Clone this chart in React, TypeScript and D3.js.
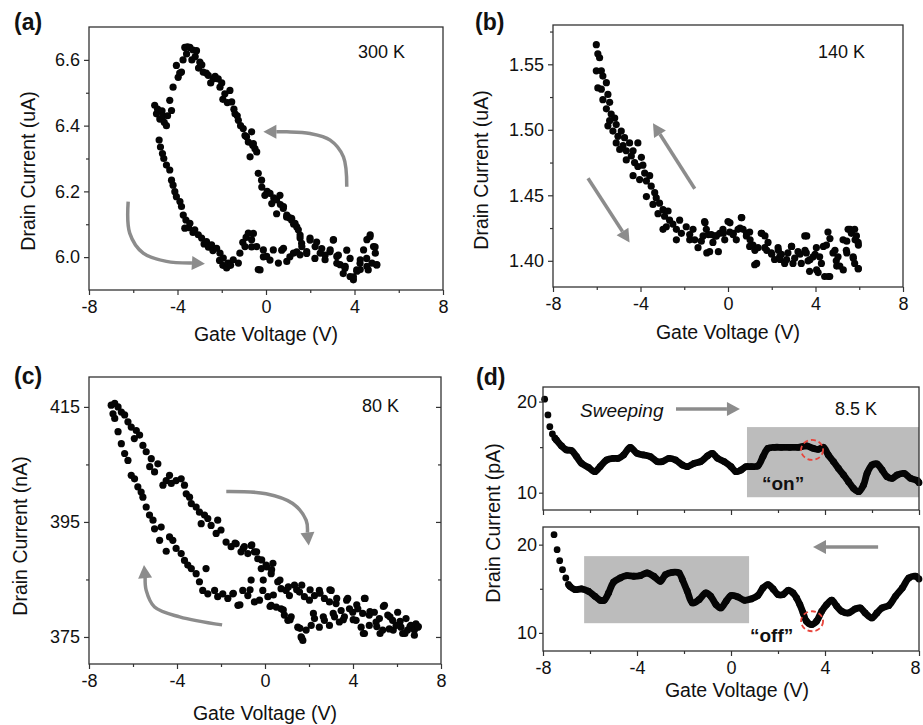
import React, { useEffect, useRef } from "react";
import * as d3 from "d3";

type Pt = [number, number];

const W = 923, H = 725;
const FONT = "'Liberation Sans', Arial, Helvetica, sans-serif";
const GRAY = "#8c8c8c";

// ---- tick values ----
const xMajor = [-8, -4, 0, 4, 8];
const xMinor = [-6, -2, 2, 6];
const aYMajor = [6.0, 6.2, 6.4, 6.6];
const aYMinor = [6.1, 6.3, 6.5];
const bYMajor = [1.4, 1.45, 1.5, 1.55];
const bYMinor = [1.425, 1.475, 1.525, 1.575];
const cYMajor = [375, 395, 415];
const cYMinor = [385, 405];
const dYMajor = [10, 20];
const dYMinor = [15];

// ---- (a) 300 K : gate voltage (V), drain current (uA) ----
const aUpper: Pt[] = [
  [-5.03, 6.462], [-4.95, 6.436], [-4.9, 6.45], [-4.8, 6.42], [-4.7, 6.445], [-4.65, 6.43], [-4.6, 6.41],
  [-4.5, 6.4], [-4.45, 6.43], [-4.35, 6.477], [-4.27, 6.446], [-4.2, 6.517], [-4.05, 6.583], [-3.97, 6.547],
  [-3.9, 6.56], [-3.82, 6.563], [-3.75, 6.6], [-3.67, 6.638], [-3.59, 6.618], [-3.55, 6.64], [-3.44, 6.638],
  [-3.35, 6.6], [-3.3, 6.63], [-3.2, 6.61], [-3.14, 6.628], [-3.05, 6.575], [-2.99, 6.593], [-2.9, 6.585],
  [-2.84, 6.563], [-2.7, 6.56], [-2.61, 6.553], [-2.5, 6.53], [-2.38, 6.542], [-2.3, 6.55], [-2.16, 6.542],
  [-2.08, 6.517], [-2.0, 6.53], [-1.95, 6.48], [-1.86, 6.497], [-1.75, 6.47], [-1.63, 6.507], [-1.55, 6.472],
  [-1.45, 6.45], [-1.4, 6.436], [-1.3, 6.43], [-1.25, 6.416], [-1.15, 6.4], [-1.03, 6.391], [-0.95, 6.37],
  [-0.88, 6.366], [-0.8, 6.35], [-0.72, 6.305], [-0.65, 6.381], [-0.6, 6.34], [-0.57, 6.345], [-0.5, 6.33],
  [-0.42, 6.32], [-0.35, 6.255], [-0.2, 6.234], [-0.19, 6.213], [-0.05, 6.188], [0.05, 6.2], [0.18, 6.194],
  [0.26, 6.163], [0.35, 6.18], [0.48, 6.174], [0.48, 6.132], [0.63, 6.188], [0.65, 6.16], [0.78, 6.148],
  [0.79, 6.154], [0.93, 6.122], [0.94, 6.128], [1.05, 6.12], [1.16, 6.118], [1.16, 6.112], [1.25, 6.1],
  [1.31, 6.103], [1.39, 6.092], [1.46, 6.083], [1.54, 6.067], [1.54, 6.058], [1.61, 6.042], [1.62, 6.032],
];
const aLower: Pt[] = [
  [-4.83, 6.356], [-4.77, 6.335], [-4.68, 6.315], [-4.62, 6.3], [-4.5, 6.28], [-4.35, 6.265], [-4.27, 6.234],
  [-4.2, 6.219], [-4.12, 6.199], [-4.05, 6.184], [-3.89, 6.169], [-3.82, 6.154], [-3.74, 6.128], [-3.67, 6.088],
  [-3.62, 6.113], [-3.5, 6.09], [-3.44, 6.103], [-3.3, 6.075], [-3.22, 6.083], [-3.06, 6.068], [-2.91, 6.058],
  [-2.8, 6.04], [-2.69, 6.047], [-2.6, 6.03], [-2.46, 6.037], [-2.4, 6.02], [-2.23, 6.027], [-2.1, 5.99],
  [-2.08, 6.012], [-1.95, 5.975], [-1.93, 5.997], [-1.78, 5.967], [-1.71, 5.982], [-1.6, 5.975], [-1.48, 5.992],
  [-1.25, 5.982], [-1.18, 6.012], [-1.05, 6.045], [-0.95, 6.032], [-0.9, 6.06], [-0.8, 6.073], [-0.65, 6.053],
  [-0.65, 6.031], [-0.57, 6.072], [-0.42, 6.032], [-0.35, 5.962], [-0.27, 5.961], [-0.12, 6.022], [-0.12, 6.001],
  [0.03, 6.002], [0.18, 5.991], [0.33, 6.022], [0.56, 5.982], [0.71, 6.021], [0.79, 6.027], [0.94, 5.987],
  [1.08, 6.001], [1.24, 6.012], [1.39, 6.016], [1.54, 6.007], [1.84, 6.017], [1.84, 6.011], [1.99, 6.058],
  [1.99, 6.052], [2.21, 5.996], [2.22, 6.032], [2.29, 6.046], [2.45, 6.012], [2.52, 6.026], [2.67, 5.992],
  [2.67, 6.006], [2.89, 6.016], [2.9, 6.022], [3.04, 6.052], [3.05, 6.053], [3.2, 6.002], [3.2, 5.981],
  [3.27, 6.006], [3.35, 5.977], [3.49, 5.95], [3.57, 5.966], [3.58, 5.972], [3.65, 6.021], [3.8, 5.941],
  [3.8, 5.996], [3.95, 5.931], [3.95, 5.94], [4.1, 5.961], [4.11, 5.957], [4.25, 5.981], [4.26, 5.992],
  [4.26, 5.962], [4.41, 6.022], [4.55, 5.996], [4.56, 6.053], [4.56, 5.972], [4.62, 5.961], [4.7, 6.062],
  [4.71, 6.068], [4.79, 5.982], [4.86, 6.032], [4.93, 6.031], [4.94, 6.012], [5.0, 5.976], [5.01, 5.977],
];

// ---- (b) 140 K : drain current (uA) ----
const bSweep: Pt[] = [
  [-6.02, 1.565], [-5.95, 1.558], [-5.87, 1.555], [-6.02, 1.545], [-5.79, 1.545], [-5.72, 1.541], [-5.95, 1.532],
  [-5.79, 1.531], [-5.56, 1.536], [-5.49, 1.527], [-5.72, 1.523], [-5.41, 1.521], [-5.56, 1.516], [-5.34, 1.512],
  [-5.18, 1.509], [-5.41, 1.507], [-5.49, 1.503], [-5.11, 1.504], [-5.26, 1.499], [-4.88, 1.499], [-5.03, 1.495],
  [-4.73, 1.494], [-5.11, 1.49], [-4.8, 1.488], [-4.5, 1.49], [-4.65, 1.484], [-4.95, 1.485], [-4.34, 1.484],
  [-4.12, 1.49], [-4.42, 1.48], [-4.65, 1.477], [-4.27, 1.475], [-3.96, 1.479], [-4.12, 1.472], [-3.89, 1.473],
  [-4.34, 1.465], [-4.04, 1.462], [-3.81, 1.467], [-3.73, 1.461], [-3.58, 1.465], [-3.51, 1.457], [-3.73, 1.449],
  [-3.35, 1.452], [-3.28, 1.448], [-3.43, 1.443], [-3.13, 1.444], [-3.2, 1.436], [-2.97, 1.439], [-2.9, 1.434],
  [-2.74, 1.438], [-2.67, 1.431], [-2.82, 1.426], [-2.97, 1.424], [-2.52, 1.428], [-2.36, 1.424], [-2.36, 1.416],
  [-2.21, 1.431], [-2.13, 1.421], [-1.91, 1.426], [-1.75, 1.42], [-1.75, 1.416], [-1.6, 1.424], [-1.52, 1.416],
  [-1.37, 1.41], [-1.22, 1.415], [-1.14, 1.419], [-1.07, 1.43], [-1.05, 1.429], [-0.99, 1.424], [-0.97, 1.406],
  [-0.9, 1.42], [-0.84, 1.407], [-0.76, 1.42], [-0.69, 1.414], [-0.59, 1.419], [-0.53, 1.419], [-0.44, 1.407],
  [-0.38, 1.421], [-0.23, 1.424], [-0.21, 1.421], [-0.15, 1.416], [0.0, 1.43], [0.08, 1.422], [0.09, 1.429],
  [0.23, 1.42], [0.24, 1.421], [0.38, 1.416], [0.46, 1.424], [0.55, 1.425], [0.61, 1.433], [0.63, 1.433],
  [0.69, 1.424], [0.84, 1.419], [0.85, 1.421], [0.99, 1.422], [0.99, 1.411], [1.01, 1.416], [1.14, 1.412],
  [1.22, 1.397], [1.23, 1.408], [1.31, 1.398], [1.37, 1.41], [1.52, 1.421], [1.54, 1.421], [1.68, 1.41],
  [1.69, 1.419], [1.77, 1.408], [1.83, 1.414], [1.98, 1.406], [2.0, 1.405], [2.13, 1.401], [2.29, 1.41],
  [2.3, 1.408], [2.36, 1.403], [2.38, 1.401], [2.44, 1.405], [2.59, 1.398], [2.68, 1.401], [2.74, 1.406],
  [2.9, 1.411], [2.91, 1.411], [2.97, 1.398], [3.05, 1.402], [3.2, 1.407], [3.29, 1.405], [3.35, 1.398],
  [3.51, 1.419], [3.52, 1.408], [3.58, 1.406], [3.6, 1.419], [3.66, 1.4], [3.73, 1.392], [3.75, 1.401],
  [3.89, 1.403], [3.98, 1.405], [4.04, 1.41], [4.05, 1.393], [4.12, 1.391], [4.19, 1.403], [4.27, 1.398],
  [4.36, 1.411], [4.42, 1.388], [4.5, 1.412], [4.57, 1.422], [4.59, 1.388], [4.65, 1.388], [4.66, 1.417],
  [4.8, 1.406], [4.89, 1.408], [4.95, 1.4], [4.97, 1.396], [5.03, 1.403], [5.11, 1.396], [5.26, 1.416],
  [5.27, 1.393], [5.41, 1.408], [5.43, 1.406], [5.43, 1.415], [5.49, 1.424], [5.58, 1.424], [5.64, 1.421],
  [5.72, 1.403], [5.73, 1.402], [5.79, 1.398], [5.79, 1.424], [5.81, 1.416], [5.87, 1.419], [5.95, 1.414],
  [5.95, 1.394], [5.96, 1.412], [5.96, 1.394],
];

// ---- (c) 80 K : drain current (nA) ----
const cUpper: Pt[] = [
  [-6.99, 415.3], [-6.83, 415.6], [-6.68, 415.0], [-6.53, 414.1], [-6.38, 413.6], [-6.23, 412.4], [-6.08, 411.5],
  [-5.85, 410.9], [-5.7, 410.1], [-5.94, 409.5], [-5.55, 408.3], [-5.4, 407.2], [-5.17, 406.0], [-5.24, 404.6],
  [-5.02, 403.7], [-4.87, 405.1], [-4.64, 401.4], [-4.49, 402.2], [-4.34, 403.1], [-4.26, 401.7], [-4.04, 402.2],
  [-3.81, 402.5], [-3.66, 401.4], [-3.58, 399.9], [-3.43, 399.3], [-3.35, 398.2], [-3.13, 397.6], [-2.98, 396.7],
  [-2.75, 396.2], [-2.9, 394.7], [-2.6, 395.6], [-2.45, 394.4], [-2.15, 395.3], [-2.0, 393.6], [-2.22, 393.0],
  [-1.77, 391.5], [-1.54, 390.7], [-1.36, 391.3], [-1.31, 391.2], [-1.09, 389.8], [-0.99, 390.4], [-0.94, 390.7],
  [-0.78, 389.5], [-0.63, 390.9], [-0.6, 391.0], [-0.48, 389.8], [-0.38, 389.8], [-0.33, 388.6], [-0.17, 386.9],
  [-0.15, 388.4], [0.05, 387.5], [0.08, 387.2], [0.28, 386.0], [0.3, 386.7], [0.36, 387.8], [0.58, 384.6],
  [0.68, 384.9], [0.73, 383.4], [0.96, 383.1], [1.06, 383.7], [1.11, 382.2], [1.34, 384.0], [1.44, 383.2],
  [1.57, 382.8], [1.67, 384.0], [1.79, 382.0], [2.02, 381.4], [2.05, 383.2], [2.25, 382.2], [2.47, 383.1],
  [2.5, 382.6], [2.7, 381.7], [2.93, 381.1], [2.95, 383.2], [3.01, 383.1], [3.23, 380.8], [3.26, 381.7],
  [3.46, 379.6], [3.71, 381.4], [3.76, 381.7], [3.99, 379.3], [4.17, 380.6], [4.22, 379.9], [4.44, 379.1],
  [4.52, 381.7], [4.55, 381.7], [4.74, 378.8], [4.77, 379.4], [4.97, 379.3], [5.2, 378.2], [5.38, 380.3],
  [5.43, 380.5], [5.58, 378.8], [5.68, 378.5], [5.8, 377.9], [6.03, 379.3], [6.14, 377.7], [6.18, 376.7],
  [6.41, 378.2], [6.59, 376.8], [6.63, 377.0], [6.79, 376.2], [6.86, 377.3], [6.94, 376.7], [6.97, 376.8],
];
const cLower: Pt[] = [
  [-6.91, 413.8], [-6.83, 413.0], [-6.68, 410.7], [-6.53, 408.6], [-6.38, 406.9], [-6.23, 405.7], [-6.08, 403.1],
  [-5.93, 402.5], [-5.78, 401.1], [-5.63, 400.2], [-5.55, 399.3], [-5.4, 397.6], [-5.25, 396.2], [-5.09, 395.3],
  [-5.02, 393.8], [-4.72, 394.1], [-4.79, 391.8], [-4.49, 389.9], [-4.34, 392.4], [-4.19, 391.8], [-4.04, 390.4],
  [-3.81, 389.5], [-3.66, 388.3], [-3.51, 387.5], [-3.35, 386.9], [-3.13, 386.0], [-2.98, 384.6], [-2.68, 386.9],
  [-2.83, 383.1], [-2.6, 382.5], [-2.29, 383.1], [-2.15, 382.0], [-1.92, 382.5], [-1.69, 381.7], [-1.46, 382.5],
  [-1.44, 382.6], [-1.23, 380.5], [-1.14, 380.6], [-1.01, 383.1], [-0.78, 382.2], [-0.68, 383.2], [-0.63, 384.9],
  [-0.48, 381.1], [-0.25, 381.4], [-0.1, 383.1], [-0.08, 384.9], [0.13, 382.0], [0.23, 380.3], [0.28, 380.5],
  [0.38, 382.3], [0.51, 380.2], [0.73, 379.9], [0.83, 379.7], [0.88, 378.8], [1.04, 377.9], [1.14, 378.0],
  [1.19, 378.5], [1.49, 376.7], [1.59, 376.5], [1.64, 375.0], [1.67, 374.8], [1.72, 374.4], [1.87, 376.2],
  [2.1, 377.0], [2.2, 379.1], [2.25, 378.2], [2.47, 376.7], [2.65, 378.5], [2.7, 377.9], [2.93, 377.0],
  [3.1, 379.1], [3.16, 378.5], [3.38, 377.6], [3.56, 378.0], [3.61, 378.5], [3.84, 379.9], [4.01, 378.0],
  [4.14, 377.9], [4.37, 376.7], [4.47, 375.6], [4.52, 375.6], [4.74, 377.0], [5.05, 377.6], [5.08, 376.8],
  [5.23, 375.6], [5.35, 376.2], [5.65, 376.4], [5.83, 376.2], [5.96, 377.0], [6.26, 375.6], [6.36, 375.6],
  [6.48, 376.2], [6.79, 375.3],
];

// ---- (d) 8.5 K : drain current (pA), forward (top) and reverse (bottom) sweeps ----
const dTopLead: Pt[] = [[-7.93, 20.26], [-7.79, 18.53], [-7.71, 17.25], [-7.6, 16.45]];
const dTop: Pt[] = [
  [-7.5, 16.0], [-7.43, 15.79], [-7.21, 15.13], [-7.0, 14.69], [-6.79, 14.62], [-6.57, 13.96], [-6.36, 13.22],
  [-6.07, 12.78], [-5.79, 12.31], [-5.57, 12.86], [-5.29, 13.59], [-5.0, 13.77], [-4.79, 13.77], [-4.57, 14.14],
  [-4.29, 14.98], [-4.0, 14.32], [-3.71, 14.14], [-3.43, 13.96], [-3.14, 13.41], [-2.93, 13.41], [-2.64, 13.77],
  [-2.36, 13.59], [-2.07, 13.04], [-1.86, 12.86], [-1.57, 13.22], [-1.29, 13.41], [-1.0, 14.03], [-0.79, 14.32],
  [-0.57, 13.77], [-0.29, 13.41], [0.0, 12.86], [0.21, 12.31], [0.43, 12.49], [0.64, 12.86], [0.86, 12.86],
  [1.14, 12.93], [1.36, 13.96], [1.57, 14.87], [1.86, 14.98], [2.14, 14.98], [2.5, 14.98], [2.86, 14.98],
  [3.21, 15.13], [3.5, 14.87], [3.71, 14.76], [3.93, 14.98], [4.14, 14.14], [4.36, 13.41], [4.57, 12.67],
  [4.79, 11.94], [5.0, 11.21], [5.21, 10.48], [5.43, 10.11], [5.64, 10.84], [5.79, 12.12], [6.0, 13.04],
  [6.21, 13.15], [6.43, 12.49], [6.64, 11.76], [6.86, 11.58], [7.07, 11.94], [7.36, 12.12], [7.64, 11.58],
  [7.93, 11.32], [8.0, 11.1],
];
const dBotLead: Pt[] = [[-7.53, 21.13], [-7.4, 19.43], [-7.29, 18.19], [-7.17, 17.17], [-7.03, 16.23]];
const dBot: Pt[] = [
  [-6.92, 15.5], [-6.86, 15.28], [-6.64, 14.91], [-6.36, 14.98], [-6.07, 14.72], [-5.79, 14.15], [-5.57, 13.7],
  [-5.4, 13.7], [-5.21, 14.53], [-5.0, 15.74], [-4.71, 16.23], [-4.43, 16.49], [-4.14, 16.42], [-3.86, 16.49],
  [-3.57, 16.79], [-3.29, 16.42], [-3.0, 15.85], [-2.79, 16.6], [-2.5, 16.87], [-2.21, 16.79], [-2.07, 16.04],
  [-1.86, 14.72], [-1.64, 13.4], [-1.36, 13.77], [-1.07, 14.53], [-0.86, 14.15], [-0.64, 13.21], [-0.43, 12.83],
  [-0.21, 13.58], [0.0, 14.23], [0.29, 14.08], [0.57, 13.7], [0.86, 13.85], [1.14, 14.23], [1.36, 15.09],
  [1.57, 15.47], [1.79, 14.98], [2.0, 14.34], [2.21, 14.34], [2.43, 14.83], [2.64, 14.53], [2.79, 13.96],
  [2.93, 13.21], [3.07, 12.26], [3.21, 11.32], [3.43, 10.94], [3.64, 11.32], [3.86, 12.45], [4.07, 13.21],
  [4.29, 13.7], [4.5, 13.02], [4.71, 12.45], [5.0, 12.26], [5.29, 12.72], [5.5, 12.83], [5.71, 12.26],
  [6.0, 11.7], [6.21, 12.26], [6.43, 12.83], [6.71, 13.09], [7.0, 14.15], [7.29, 15.09], [7.57, 16.23],
  [7.86, 16.42], [8.0, 16.1],
];

// ---- annotation arrows (in data units of their panel) ----
const arrowA1: Pt[] = [[3.65, 6.214], [3.5, 6.305], [2.9, 6.356], [1.99, 6.376], [0.94, 6.381], [-0.12, 6.381]];
const arrowA2: Pt[] = [[-6.23, 6.169], [-6.16, 6.073], [-5.55, 6.012], [-4.5, 5.987], [-2.76, 5.98]];
const arrowB1: Pt[] = [[-1.52, 1.455], [-3.43, 1.505]];
const arrowB2: Pt[] = [[-6.4, 1.463], [-4.5, 1.414]];
const arrowC1: Pt[] = [[-1.76, 400.3], [0.05, 399.9], [1.26, 398.2], [1.87, 395.3], [1.99, 390.9]];
const arrowC2: Pt[] = [[-1.95, 377.1], [-3.88, 378.5], [-5.02, 380.2], [-5.4, 383.1], [-5.5, 387.5]];
const arrowD1: Pt[] = [[-2.34, 19.19], [0.38, 19.19]];
const arrowD2: Pt[] = [[6.26, 19.73], [3.49, 19.73]];

type Sel = d3.Selection<SVGGElement, unknown, null, undefined>;

function panel(root: Sel, p: any) {
  const x = d3.scaleLinear().domain([-8, 8]).range([p.left, p.right]);
  const y = d3.scaleLinear().domain(p.yDomain).range([p.bottom, p.top]);
  const g = root.append("g");
  const bx = g.append("g").attr("transform", `translate(0,${p.bottom})`);
  bx.call(d3.axisBottom(x).tickValues(xMajor).tickSize(5).tickPadding(5)
    .tickFormat((d: any) => (p.xLabels ? String(d) : "")));
  bx.append("g").call(d3.axisBottom(x).tickValues(xMinor).tickSize(3).tickFormat(() => ""));
  const ly = g.append("g").attr("transform", `translate(${p.left},0)`);
  ly.call(d3.axisLeft(y).tickValues(p.yMajor).tickSize(p.tick || 5).tickPadding(p.pad || 4).tickFormat(p.yFmt));
  ly.append("g").call(d3.axisLeft(y).tickValues(p.yMinor).tickSize(3).tickFormat(() => ""));
  if (p.rightTicks) {
    const ry = g.append("g").attr("transform", `translate(${p.right},0)`);
    ry.call(d3.axisLeft(y).tickValues(p.yMajor).tickSize(5).tickFormat(() => ""));
    ry.append("g").call(d3.axisLeft(y).tickValues(p.yMinor).tickSize(3).tickFormat(() => ""));
  }
  g.selectAll(".domain").remove();
  g.selectAll(".tick line").attr("stroke", "#333").attr("stroke-width", 1.2);
  g.selectAll(".tick text").attr("font-family", FONT).attr("font-size", 18).attr("fill", "#111");
  const plot = g.append("g");
  g.append("rect").attr("x", p.left).attr("y", p.top).attr("width", p.right - p.left)
    .attr("height", p.bottom - p.top).attr("fill", "none").attr("stroke", "#333").attr("stroke-width", 1.3);
  return { x, y, g: plot, outer: g };
}

function dots(g: Sel, x: any, y: any, data: Pt[], r = 3.6) {
  g.append("g").selectAll("circle").data(data).join("circle")
    .attr("cx", (d) => x(d[0])).attr("cy", (d) => y(d[1])).attr("r", r).attr("fill", "#050505");
}

function arrow(g: Sel, x: any, y: any, pts: Pt[]) {
  const px = pts.map((p) => [x(p[0]), y(p[1])] as [number, number]);
  const tip = px[px.length - 1], prev = px[px.length - 2];
  const len = Math.hypot(tip[0] - prev[0], tip[1] - prev[1]);
  const ux = (tip[0] - prev[0]) / len, uy = (tip[1] - prev[1]) / len;
  const hl = 13, hw = 7;
  const base: [number, number] = [tip[0] - ux * hl, tip[1] - uy * hl];
  const shaft = [...px.slice(0, -1), base];
  const line = d3.line().curve(px.length > 2 ? d3.curveCatmullRom : d3.curveLinear);
  g.append("path").attr("d", line(shaft)).attr("fill", "none").attr("stroke", GRAY).attr("stroke-width", 3.5);
  g.append("path")
    .attr("d", `M${tip[0]},${tip[1]}L${base[0] - uy * hw},${base[1] + ux * hw}L${base[0] + uy * hw},${base[1] - ux * hw}Z`)
    .attr("fill", GRAY);
}

function text(g: Sel, s: string, x: number, y: number, size: number, opts: any = {}) {
  const t = g.append("text").attr("x", x).attr("y", y).attr("font-family", FONT).attr("font-size", size)
    .attr("fill", "#111").text(s);
  if (opts.anchor) t.attr("text-anchor", opts.anchor);
  if (opts.bold) t.attr("font-weight", "bold");
  if (opts.italic) t.attr("font-style", "italic");
  if (opts.rotate) t.attr("transform", `rotate(-90,${x},${y})`);
  return t;
}

export default function App() {
  const ref = useRef<SVGSVGElement>(null);

  useEffect(() => {
    const svg = d3.select(ref.current);
    svg.selectAll("*").remove();
    const root = svg.append("g") as unknown as Sel;

    // (a)
    const A = panel(root, {
      left: 89, right: 443, top: 27, bottom: 290, yDomain: [5.9, 6.7],
      yMajor: aYMajor, yMinor: aYMinor, yFmt: d3.format(".1f"), xLabels: true,
    });
    dots(A.g, A.x, A.y, aUpper);
    dots(A.g, A.x, A.y, aLower);
    arrow(A.g, A.x, A.y, arrowA1);
    arrow(A.g, A.x, A.y, arrowA2);
    text(root, "(a)", 14, 30, 23, { bold: true });
    text(root, "300 K", 358, 58, 18);
    text(root, "Gate Voltage (V)", 266, 341, 19.5, { anchor: "middle" });
    text(root, "Drain Current (uA)", 35, 171, 19.5, { anchor: "middle", rotate: true });

    // (b)
    const B = panel(root, {
      left: 553, right: 903, top: 25, bottom: 287, yDomain: [1.38, 1.58],
      yMajor: bYMajor, yMinor: bYMinor, yFmt: d3.format(".2f"), xLabels: true,
    });
    dots(B.g, B.x, B.y, bSweep);
    arrow(B.g, B.x, B.y, arrowB1);
    arrow(B.g, B.x, B.y, arrowB2);
    text(root, "(b)", 475, 30, 23, { bold: true });
    text(root, "140 K", 818, 58, 18);
    text(root, "Gate Voltage (V)", 728, 339, 19.5, { anchor: "middle" });
    text(root, "Drain Current (uA)", 488, 170, 19.5, { anchor: "middle", rotate: true });

    // (c)
    const C = panel(root, {
      left: 89, right: 441, top: 377, bottom: 664, yDomain: [370.3, 420.2],
      yMajor: cYMajor, yMinor: cYMinor, yFmt: d3.format("d"), xLabels: true, rightTicks: true,
    });
    dots(C.g, C.x, C.y, cUpper);
    dots(C.g, C.x, C.y, cLower);
    arrow(C.g, C.x, C.y, arrowC1);
    arrow(C.g, C.x, C.y, arrowC2);
    text(root, "(c)", 14, 384, 23, { bold: true });
    text(root, "80 K", 362, 412, 18);
    text(root, "Gate Voltage (V)", 265, 720, 19.5, { anchor: "middle" });
    text(root, "Drain Current (nA)", 27, 536, 19.5, { anchor: "middle", rotate: true });

    // (d) top: forward sweep
    const D1 = panel(root, {
      left: 543, right: 919, top: 387, bottom: 510, yDomain: [8.1, 21.6],
      yMajor: dYMajor, yMinor: dYMinor, yFmt: d3.format("d"), xLabels: false, tick: 4, pad: 2,
    });
    D1.g.append("rect").attr("x", D1.x(0.68)).attr("y", D1.y(17.2))
      .attr("width", D1.x(8) - D1.x(0.68)).attr("height", D1.y(9.5) - D1.y(17.2)).attr("fill", "#bcbcbc");
    const curve = d3.line<Pt>().curve(d3.curveCatmullRom);
    D1.g.append("path").attr("d", curve.x((d) => D1.x(d[0])).y((d) => D1.y(d[1]))(dTop))
      .attr("fill", "none").attr("stroke", "#050505").attr("stroke-width", 6.8).attr("stroke-linejoin", "round");
    dots(D1.g, D1.x, D1.y, dTopLead, 3.4);
    dots(D1.g, D1.x, D1.y, dTop, 3.4);
    D1.g.append("ellipse").attr("cx", D1.x(3.45)).attr("cy", D1.y(14.69)).attr("rx", 11).attr("ry", 10)
      .attr("fill", "none").attr("stroke", "#e8453c").attr("stroke-width", 1.8).attr("stroke-dasharray", "5,3");
    arrow(D1.g, D1.x, D1.y, arrowD1);
    text(root, "Sweeping", 580, 417, 19, { italic: true });
    text(root, "8.5 K", 835, 415, 18);
    text(root, "\u201Con\u201D", 762, 490, 19, { bold: true });

    // (d) bottom: reverse sweep
    const D2 = panel(root, {
      left: 543, right: 919, top: 527, bottom: 651, yDomain: [7.95, 22.0],
      yMajor: dYMajor, yMinor: dYMinor, yFmt: d3.format("d"), xLabels: true, tick: 4, pad: 2,
    });
    D2.outer.selectAll<SVGTextElement, number>(".tick text").filter((d) => d === 8).attr("dx", -4);
    D2.g.append("rect").attr("x", D2.x(-6.25)).attr("y", D2.y(18.7))
      .attr("width", D2.x(0.77) - D2.x(-6.25)).attr("height", D2.y(11.1) - D2.y(18.7)).attr("fill", "#bcbcbc");
    D2.g.append("path").attr("d", curve.x((d) => D2.x(d[0])).y((d) => D2.y(d[1]))(dBot))
      .attr("fill", "none").attr("stroke", "#050505").attr("stroke-width", 6.8).attr("stroke-linejoin", "round");
    dots(D2.g, D2.x, D2.y, dBotLead, 3.4);
    dots(D2.g, D2.x, D2.y, dBot, 3.4);
    D2.g.append("ellipse").attr("cx", D2.x(3.45)).attr("cy", D2.y(11.32)).attr("rx", 11).attr("ry", 10)
      .attr("fill", "none").attr("stroke", "#e8453c").attr("stroke-width", 1.8).attr("stroke-dasharray", "5,3");
    arrow(D2.g, D2.x, D2.y, arrowD2);
    text(root, "\u201Coff\u201D", 750, 642, 19, { bold: true });
    text(root, "(d)", 476, 385, 23, { bold: true });
    text(root, "Gate Voltage (V)", 737, 697, 19.5, { anchor: "middle" });
    text(root, "Drain Current (pA)", 500, 523, 19.5, { anchor: "middle", rotate: true });
  }, []);

  return (
    <svg ref={ref} width={W} height={H}
      style={{ position: "absolute", left: 0, top: 0, background: "#fff" }} />
  );
}
